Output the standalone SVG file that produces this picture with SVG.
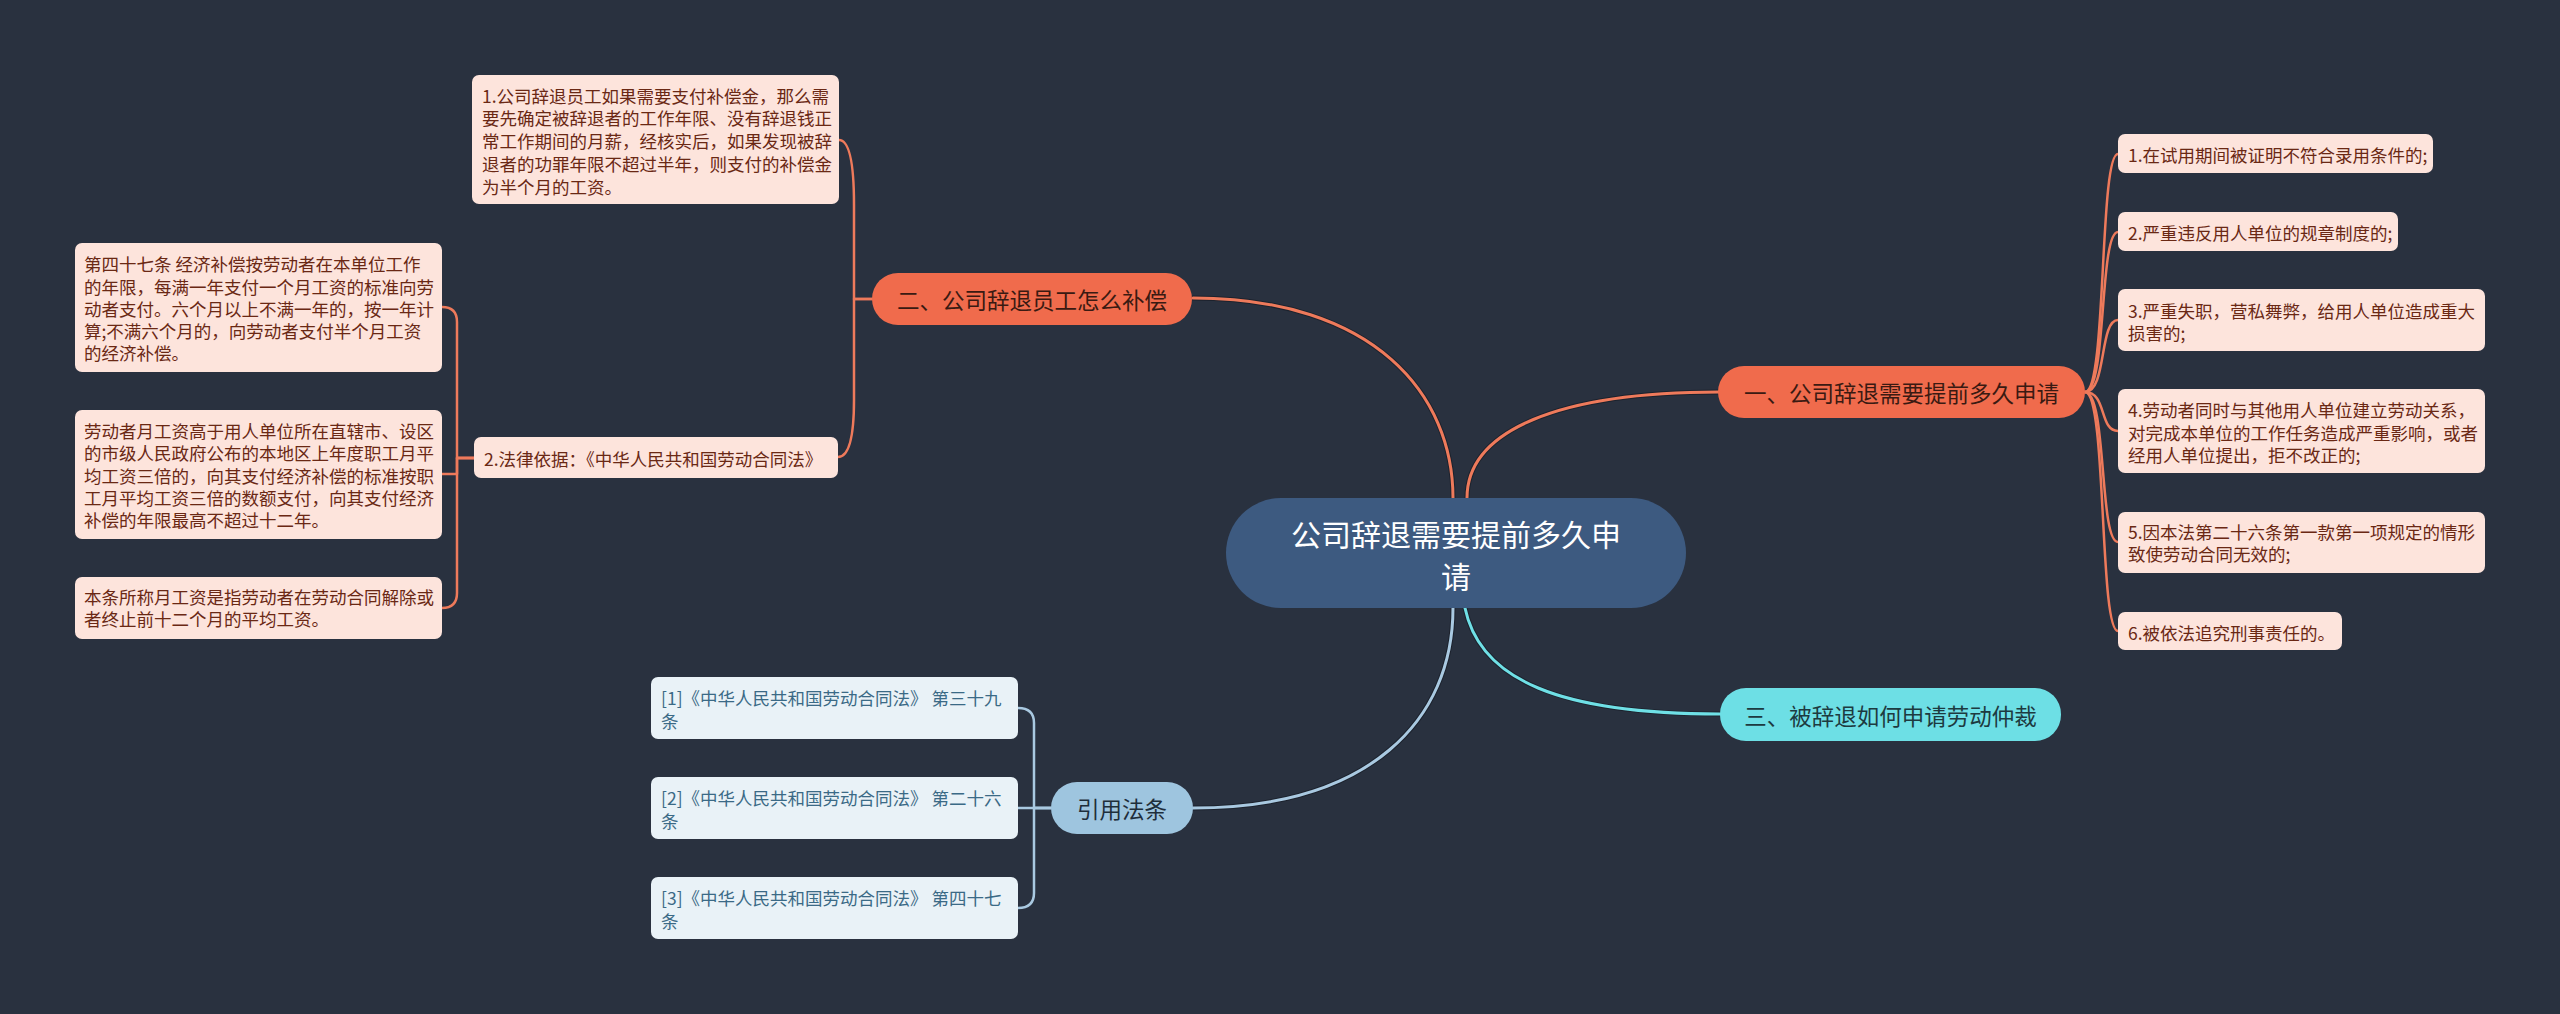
<svg xmlns="http://www.w3.org/2000/svg" width="2560" height="1014" viewBox="0 0 2560 1014">
<style>
text{font-family:"Noto Sans CJK SC","Noto Sans",sans-serif;dominant-baseline:central}
.leaf{fill:#fde4dc}
.lt{font-size:17.5px;fill:#6a2814}
.cite{fill:#e9f2f7}
.ct{font-size:17.5px;fill:#3b6a86}
.mt{font-size:22.5px;text-anchor:middle}
.ln{fill:none;stroke-linecap:round;stroke-linejoin:round}
.or{stroke:#ee7a5b}
.bl{stroke:#a9c9e1}
.cy{stroke:#6fe0e6}
.sh{fill:none;stroke:#1c222d;stroke-linecap:round}
</style>
<rect width="2560" height="1014" fill="#29313f"/>
<g id="connectors">
<g class="sh" stroke-width="5">
<path d="M1193,298 C1375,298 1453,395 1453,498"/>
<path d="M1467,498 C1467,430 1560,392 1719,392"/>
<path d="M1453,608 C1453,720 1370,808 1193,808"/>
<path d="M1465,608 C1480,680 1560,714 1720,714"/>
</g>
<g class="ln or" stroke-width="3">
<path d="M1193,298 C1375,298 1453,395 1453,498"/>
<path d="M1467,498 C1467,430 1560,392 1719,392"/>
</g>
<path class="ln bl" stroke-width="3" d="M1453,608 C1453,720 1370,808 1193,808"/>
<path class="ln cy" stroke-width="3" d="M1465,608 C1480,680 1560,714 1720,714"/>
<g class="ln or" stroke-width="2.5">
<path d="M872,299 H854 V205 Q854,140 839,140"/>
<path d="M872,299 H854 V400 Q854,457 838,457"/>
<path d="M474,458 H457 V322 Q457,307 442,307"/>
<path d="M474,458 H457 V474 H442"/>
<path d="M474,458 H457 V593 Q457,608 442,608"/>
<path d="M2085,392 C2107,392 2099,154 2118,154"/>
<path d="M2085,392 C2107,392 2099,232 2118,232"/>
<path d="M2085,392 C2107,392 2099,320 2118,320"/>
<path d="M2085,392 C2107,392 2099,431 2118,431"/>
<path d="M2085,392 C2107,392 2099,542 2118,542"/>
<path d="M2085,392 C2107,392 2099,631 2118,631"/>
</g>
<g class="ln bl" stroke-width="2.5">
<path d="M1051,808 H1034 V723 Q1034,708 1018,708"/>
<path d="M1051,808 H1018"/>
<path d="M1051,808 H1034 V893 Q1034,908 1018,908"/>
</g>
</g>
<g id="center">
<rect x="1226" y="498" width="460" height="110" rx="55" fill="#3d5a80"/>
<text x="1456" y="533" font-size="30" fill="#ffffff" text-anchor="middle">公司辞退需要提前多久申</text>
<text x="1456" y="575" font-size="30" fill="#ffffff" text-anchor="middle">请</text>
</g>
<g id="n1">
<rect x="1718" y="366" width="367" height="52" rx="26" fill="#f06b4c"/>
<text class="mt" x="1901.5" y="392" fill="#3a1a12">一、公司辞退需要提前多久申请</text>
</g>
<g id="n2">
<rect x="872" y="273" width="320" height="52" rx="26" fill="#f06b4c"/>
<text class="mt" x="1032" y="299" fill="#3a1a12">二、公司辞退员工怎么补偿</text>
</g>
<g id="n3">
<rect x="1720" y="688" width="341" height="53" rx="26" fill="#6ddfe5"/>
<text class="mt" x="1890.5" y="714.5" fill="#1d3a40">三、被辞退如何申请劳动仲裁</text>
</g>
<g id="n4">
<rect x="1051" y="782" width="142" height="52" rx="26" fill="#9ec5df"/>
<text class="mt" x="1122" y="808" fill="#1e2e3b">引用法条</text>
</g>
<g id="n2-1">
<rect class="leaf" x="472" y="75" width="367" height="129" rx="7"/>
<text class="lt" x="482" y="95">1.公司辞退员工如果需要支付补偿金，那么需</text>
<text class="lt" x="482" y="117.8">要先确定被辞退者的工作年限、没有辞退钱正</text>
<text class="lt" x="482" y="140.6">常工作期间的月薪，经核实后，如果发现被辞</text>
<text class="lt" x="482" y="163.4">退者的功罪年限不超过半年，则支付的补偿金</text>
<text class="lt" x="482" y="186.2">为半个月的工资。</text>
</g>
<g id="n2-2">
<rect class="leaf" x="474" y="437" width="364" height="41" rx="7"/>
<text class="lt" x="484" y="458">2.法律依据：《中华人民共和国劳动合同法》</text>
</g>
<g id="n2-2-1">
<rect class="leaf" x="75" y="243" width="367" height="129" rx="7"/>
<text class="lt" x="84" y="263.3">第四十七条 经济补偿按劳动者在本单位工作</text>
<text class="lt" x="84" y="286">的年限，每满一年支付一个月工资的标准向劳</text>
<text class="lt" x="84" y="308.3">动者支付。六个月以上不满一年的，按一年计</text>
<text class="lt" x="84" y="330.5">算;不满六个月的，向劳动者支付半个月工资</text>
<text class="lt" x="84" y="352.7">的经济补偿。</text>
</g>
<g id="n2-2-2">
<rect class="leaf" x="75" y="410" width="367" height="129" rx="7"/>
<text class="lt" x="84" y="430">劳动者月工资高于用人单位所在直辖市、设区</text>
<text class="lt" x="84" y="452.5">的市级人民政府公布的本地区上年度职工月平</text>
<text class="lt" x="84" y="475">均工资三倍的，向其支付经济补偿的标准按职</text>
<text class="lt" x="84" y="497">工月平均工资三倍的数额支付，向其支付经济</text>
<text class="lt" x="84" y="519.3">补偿的年限最高不超过十二年。</text>
</g>
<g id="n2-2-3">
<rect class="leaf" x="75" y="577" width="367" height="62" rx="7"/>
<text class="lt" x="84" y="596.7">本条所称月工资是指劳动者在劳动合同解除或</text>
<text class="lt" x="84" y="618.5">者终止前十二个月的平均工资。</text>
</g>
<g id="n1-1">
<rect class="leaf" x="2118" y="134" width="315" height="39" rx="7"/>
<text class="lt" x="2128" y="154">1.在试用期间被证明不符合录用条件的;</text>
</g>
<g id="n1-2">
<rect class="leaf" x="2118" y="212" width="280" height="39" rx="7"/>
<text class="lt" x="2128" y="232">2.严重违反用人单位的规章制度的;</text>
</g>
<g id="n1-3">
<rect class="leaf" x="2118" y="289" width="367" height="62" rx="7"/>
<text class="lt" x="2128" y="310">3.严重失职，营私舞弊，给用人单位造成重大</text>
<text class="lt" x="2128" y="332">损害的;</text>
</g>
<g id="n1-4">
<rect class="leaf" x="2118" y="389" width="367" height="84" rx="7"/>
<text class="lt" x="2128" y="409.5">4.劳动者同时与其他用人单位建立劳动关系，</text>
<text class="lt" x="2128" y="432">对完成本单位的工作任务造成严重影响，或者</text>
<text class="lt" x="2128" y="454.5">经用人单位提出，拒不改正的;</text>
</g>
<g id="n1-5">
<rect class="leaf" x="2118" y="512" width="367" height="61" rx="7"/>
<text class="lt" x="2128" y="531.7">5.因本法第二十六条第一款第一项规定的情形</text>
<text class="lt" x="2128" y="553.3">致使劳动合同无效的;</text>
</g>
<g id="n1-6">
<rect class="leaf" x="2118" y="612" width="224" height="38" rx="7"/>
<text class="lt" x="2128" y="632">6.被依法追究刑事责任的。</text>
</g>
<g id="n4-1">
<rect class="cite" x="651" y="677" width="367" height="62" rx="7"/>
<text class="ct" x="661" y="697">[1]《中华人民共和国劳动合同法》 第三十九</text>
<text class="ct" x="661" y="720">条</text>
</g>
<g id="n4-2">
<rect class="cite" x="651" y="777" width="367" height="62" rx="7"/>
<text class="ct" x="661" y="797">[2]《中华人民共和国劳动合同法》 第二十六</text>
<text class="ct" x="661" y="820">条</text>
</g>
<g id="n4-3">
<rect class="cite" x="651" y="877" width="367" height="62" rx="7"/>
<text class="ct" x="661" y="897">[3]《中华人民共和国劳动合同法》 第四十七</text>
<text class="ct" x="661" y="920">条</text>
</g>
</svg>
